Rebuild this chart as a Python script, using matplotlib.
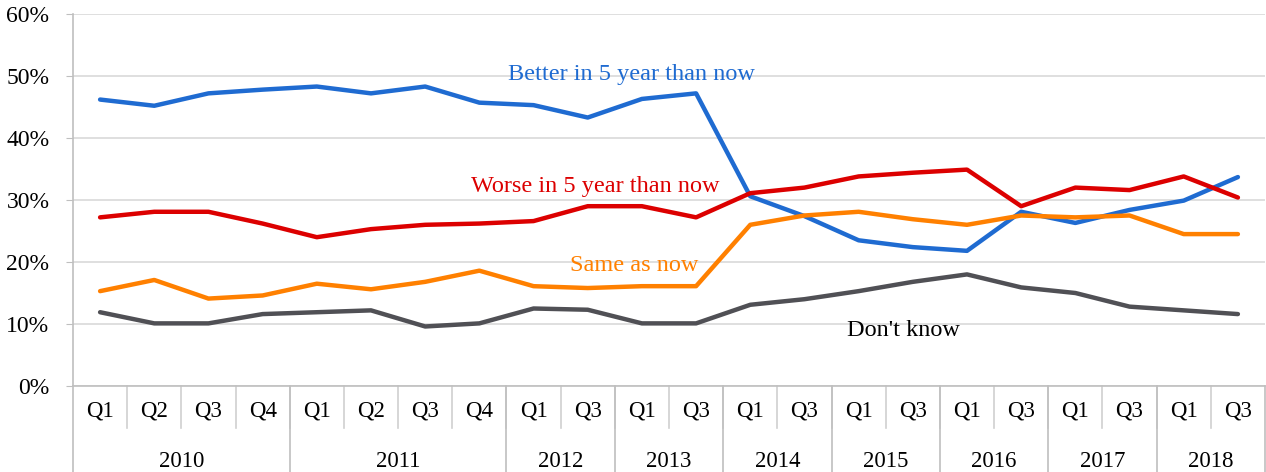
import matplotlib.pyplot as plt
from matplotlib.ticker import FuncFormatter

# ---------- Data ----------
quarters = ["Q1", "Q2", "Q3", "Q4", "Q1", "Q2", "Q3", "Q4",
            "Q1", "Q3", "Q1", "Q3", "Q1", "Q3", "Q1", "Q3",
            "Q1", "Q3", "Q1", "Q3", "Q1", "Q3"]
years = ["2010", "2011", "2012", "2013", "2014", "2015", "2016", "2017", "2018"]
year_sizes = [4, 4, 2, 2, 2, 2, 2, 2, 2]

better = [46.2, 45.2, 47.2, 47.8, 48.3, 47.2, 48.3, 45.7, 45.3, 43.3, 46.3, 47.2,
          30.6, 27.4, 23.5, 22.4, 21.8, 28.1, 26.3, 28.4, 29.9, 33.7]
worse = [27.2, 28.1, 28.1, 26.2, 24.0, 25.3, 26.0, 26.2, 26.6, 29.0, 29.0, 27.2,
         31.1, 32.0, 33.8, 34.4, 34.9, 29.0, 32.0, 31.6, 33.8, 30.4]
same = [15.3, 17.1, 14.1, 14.6, 16.5, 15.6, 16.8, 18.6, 16.1, 15.8, 16.1, 16.1,
        26.0, 27.5, 28.1, 26.9, 26.0, 27.5, 27.2, 27.5, 24.5, 24.5]
dont_know = [11.9, 10.1, 10.1, 11.6, 11.9, 12.2, 9.6, 10.1, 12.5, 12.3, 10.1, 10.1,
             13.1, 14.0, 15.3, 16.8, 18.0, 15.9, 15.0, 12.8, 12.2, 11.6]

series_names = ["Better in 5 year than now", "Worse in 5 year than now",
                "Same as now", "Don't know"]

# ---------- Plot ----------
plt.rcParams['font.family'] = ['Liberation Serif', 'DejaVu Serif']

W, H = 1266, 472
fig = plt.figure(figsize=(W / 100, H / 100), dpi=100)
ax = fig.add_axes([73 / W, 1 - 386 / H, (1265 - 73) / W, (386 - 14) / H])

x = [i + 0.5 for i in range(len(quarters))]
colors = ["#1F6BD1", "#DC0000", "#FF8000", "#505055"]
for vals, c in zip([better, worse, same, dont_know], colors):
    ax.plot(x, vals, color=c, lw=3.2, solid_capstyle='round',
            solid_joinstyle='round', zorder=3)

ax.set_xlim(0, len(quarters))
ax.set_ylim(0, 60)
ax.set_yticks(range(0, 61, 10))
ax.yaxis.set_major_formatter(FuncFormatter(lambda v, p: f"{int(v)}%"))
ax.tick_params(axis='y', length=5, color='#BFBFBF', labelsize=17, pad=12)
ax.tick_params(axis='x', length=0, labelbottom=False)
ax.grid(axis='y', color='#D9D9D9', lw=1.2)
ax.set_axisbelow(True)
for s in ['top', 'right']:
    ax.spines[s].set_visible(False)
ax.spines['left'].set_color('#BFBFBF')
ax.spines['bottom'].set_color('#BFBFBF')
ax.spines['left'].set_linewidth(1.2)
ax.spines['bottom'].set_linewidth(1.2)

# ---------- Multi-level category axis ----------
trans = ax.get_xaxis_transform()
for i, q in enumerate(quarters):
    ax.text(i + 0.5, -0.067, q, transform=trans, ha='center', va='center',
            fontsize=16.5)
    if i > 0:
        ax.plot([i, i], [0, -0.113], transform=trans, color='#D0D0D0',
                lw=1.2, clip_on=False)

start = 0
bounds = [0]
for y, n in zip(years, year_sizes):
    ax.text(start + n / 2, -0.202, y, transform=trans, ha='center',
            va='center', fontsize=16.5)
    start += n
    bounds.append(start)
for b in bounds:
    ax.plot([b, b], [0, -0.235], transform=trans, color='#BFBFBF',
            lw=1.2, clip_on=False)

# ---------- Series labels ----------
ax.text(10.3, 50.2, series_names[0], color=colors[0], fontsize=17.5,
        ha='center', va='center')
ax.text(9.63, 32.1, series_names[1], color=colors[1], fontsize=17.5,
        ha='center', va='center')
ax.text(10.35, 19.4, series_names[2], color=colors[2], fontsize=17.5,
        ha='center', va='center')
ax.text(15.32, 9.0, series_names[3], color='black', fontsize=17.5,
        ha='center', va='center')

fig.savefig("out.png", dpi=100)
